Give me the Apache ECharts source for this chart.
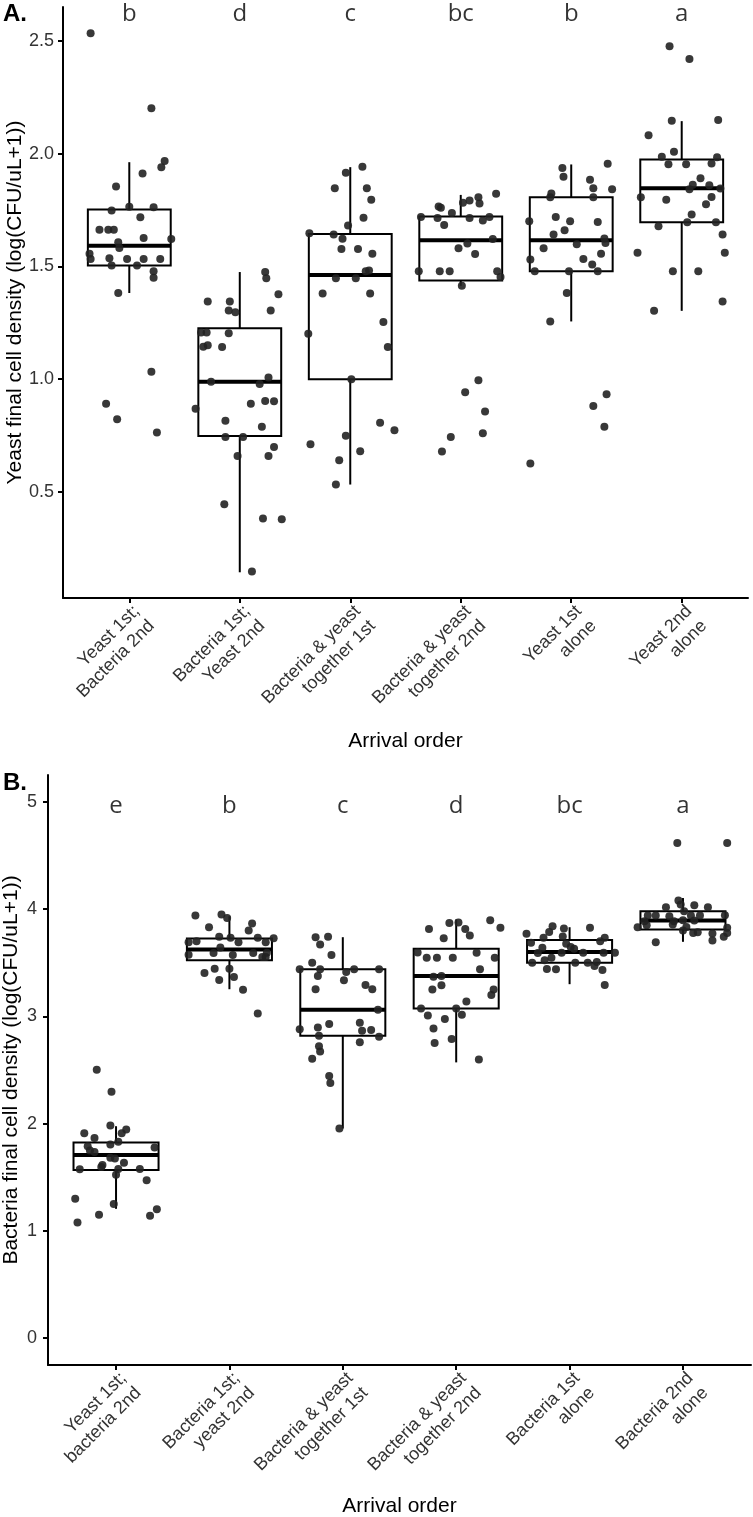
<!DOCTYPE html>
<html>
<head>
<meta charset="utf-8">
<script src="https://cdn.jsdelivr.net/npm/echarts@6/dist/echarts.min.js"></script>
<style>
  body { margin: 0; background: #fff; }
  #main { width: 753px; height: 1517px; }
</style>
</head>
<body>
<div id="main"></div>
<script>
// group names (x axis labels)
const yeastGroups = ['Yeast 1st;\nBacteria 2nd', 'Bacteria 1st;\nYeast 2nd', 'Bacteria & yeast\ntogether 1st', 'Bacteria & yeast\ntogether 2nd', 'Yeast 1st\nalone', 'Yeast 2nd\nalone']
const bacteriaGroups = ['Yeast 1st;\nbacteria 2nd', 'Bacteria 1st;\nyeast 2nd', 'Bacteria & yeast\ntogether 1st', 'Bacteria & yeast\ntogether 2nd', 'Bacteria 1st\nalone', 'Bacteria 2nd\nalone']

// significance letters
const yeastLetters = ['b', 'd', 'c', 'bc', 'b', 'a']
const bacteriaLetters = ['e', 'b', 'c', 'd', 'bc', 'a']
const yeastLetterY = 2.62
const bacteriaLetterY = 4.96

// tick values
const yeastTicks = [0.5, 1.0, 1.5, 2.0, 2.5]
const bacteriaTicks = [0, 1, 2, 3, 4, 5]

// box stats: [lower whisker, Q1, median, Q3, upper whisker]
const yeastBox = [
  [1.382, 1.504, 1.592, 1.752, 1.962],
  [0.144, 0.748, 0.989, 1.226, 1.475],
  [0.533, 1.0, 1.462, 1.644, 1.94],
  [1.414, 1.438, 1.616, 1.721, 1.817],
  [1.256, 1.478, 1.616, 1.807, 1.952],
  [1.303, 1.696, 1.847, 1.974, 2.144]
]
const bacteriaBox = [
  [1.206, 1.568, 1.707, 1.825, 1.976],
  [3.253, 3.522, 3.624, 3.726, 3.933],
  [1.955, 2.82, 3.061, 3.439, 3.738],
  [2.571, 3.073, 3.377, 3.63, 3.903],
  [3.3, 3.5, 3.599, 3.711, 3.831],
  [3.695, 3.81, 3.893, 3.98, 4.103]
]

// yeast final cell density, one list per group
const yeastValues = [
  [2.534, 2.201, 1.967, 1.94, 1.912, 1.854, 1.748, 1.764, 1.762, 1.718, 1.662, 1.662, 1.662, 1.626, 1.622, 1.607, 1.582, 1.556, 1.533, 1.536, 1.533, 1.533, 1.533, 1.504, 1.504, 1.478, 1.45, 1.382, 1.033, 0.891, 0.822, 0.764],
  [1.344, 1.344, 1.304, 1.297, 1.475, 1.448, 1.377, 1.304, 1.207, 1.207, 1.204, 1.144, 1.151, 1.143, 0.989, 1.007, 0.979, 0.869, 0.891, 0.903, 0.902, 0.816, 0.789, 0.744, 0.744, 0.660, 0.660, 0.699, 0.446, 0.382, 0.379, 0.147],
  [1.915, 1.942, 1.847, 1.847, 1.796, 1.716, 1.681, 1.647, 1.642, 1.623, 1.577, 1.577, 1.556, 1.447, 1.447, 1.482, 1.478, 1.380, 1.380, 1.253, 1.143, 0.807, 0.774, 1.201, 1.0, 0.712, 0.749, 0.641, 0.681, 0.533],
  [1.766, 1.76, 1.737, 1.782, 1.792, 1.807, 1.779, 1.822, 1.719, 1.715, 1.684, 1.715, 1.703, 1.719, 1.622, 1.602, 1.58, 1.555, 1.478, 1.478, 1.478, 1.478, 1.453, 1.414, 0.942, 0.995, 0.857, 0.76, 0.744, 0.679],
  [1.936, 1.897, 1.955, 1.884, 1.847, 1.842, 1.823, 1.807, 1.807, 1.70, 1.719, 1.70, 1.697, 1.66, 1.641, 1.624, 1.604, 1.598, 1.58, 1.531, 1.533, 1.556, 1.508, 1.478, 1.478, 1.478, 1.382, 1.256, 0.881, 0.933, 0.789, 0.626],
  [2.476, 2.419, 2.146, 2.149, 2.082, 1.986, 2.008, 1.953, 1.953, 1.956, 1.984, 1.891, 1.862, 1.86, 1.842, 1.845, 1.807, 1.795, 1.808, 1.776, 1.73, 1.678, 1.696, 1.696, 1.641, 1.56, 1.56, 1.478, 1.478, 1.303, 1.344]
]
// horizontal jitter of each yeast point (in category units)
const yeastJitter = [
  [-0.35, 0.20, 0.32, 0.29, 0.12, -0.12, -0.16, 0.00, 0.22, 0.10, -0.27, -0.19, -0.14, 0.13, 0.38, -0.10, -0.09, -0.36, -0.35, -0.18, -0.02, 0.13, 0.28, -0.16, 0.07, 0.22, 0.22, -0.10, 0.20, -0.21, -0.11, 0.25],
  [-0.29, -0.09, -0.10, -0.04, 0.23, 0.24, 0.35, 0.28, -0.35, -0.30, -0.10, -0.33, -0.29, -0.16, -0.26, 0.26, 0.18, -0.40, 0.10, 0.23, 0.31, -0.13, 0.20, -0.13, 0.03, -0.02, 0.26, 0.31, -0.14, 0.21, 0.38, 0.11],
  [-0.04, 0.11, -0.14, 0.15, 0.19, 0.12, -0.02, -0.37, -0.15, -0.07, -0.08, 0.07, 0.20, -0.13, 0.05, 0.17, 0.14, -0.25, 0.18, 0.30, 0.34, 0.27, 0.40, -0.38, 0.01, -0.36, -0.04, -0.10, 0.09, -0.13],
  [-0.20, -0.18, -0.08, 0.02, 0.08, 0.16, 0.17, 0.32, -0.36, -0.21, -0.15, 0.08, 0.20, 0.26, 0.29, 0.06, -0.02, 0.13, -0.38, -0.19, -0.10, 0.33, 0.36, 0.01, 0.04, 0.16, 0.22, 0.20, -0.09, -0.17],
  [-0.08, -0.07, 0.33, 0.17, 0.20, 0.37, -0.18, -0.19, 0.20, -0.38, -0.14, -0.01, 0.24, -0.06, -0.16, 0.30, 0.31, 0.05, -0.25, -0.37, 0.11, 0.27, 0.19, -0.33, -0.02, 0.24, -0.04, -0.19, 0.20, 0.32, 0.30, -0.37],
  [-0.11, 0.07, -0.09, 0.33, -0.30, -0.18, -0.07, -0.12, 0.04, 0.27, 0.32, 0.17, 0.10, 0.25, 0.07, 0.35, -0.37, -0.14, 0.27, 0.22, 0.09, -0.21, 0.05, 0.31, 0.37, -0.40, 0.39, -0.08, 0.15, -0.25, 0.37]
]

// bacteria final cell density, one list per group
const bacteriaValues = [
  [2.502, 2.298, 1.982, 1.945, 1.911, 1.911, 1.867, 1.83, 1.806, 1.79, 1.778, 1.75, 1.735, 1.682, 1.676, 1.635, 1.614, 1.595, 1.574, 1.577, 1.577, 1.524, 1.472, 1.299, 1.252, 1.203, 1.15, 1.141, 1.079],
  [3.94, 3.949, 3.918, 3.866, 3.831, 3.8, 3.692, 3.701, 3.741, 3.732, 3.692, 3.732, 3.692, 3.729, 3.643, 3.59, 3.571, 3.59, 3.593, 3.574, 3.553, 3.553, 3.404, 3.444, 3.444, 3.367, 3.339, 3.247, 3.027],
  [3.738, 3.741, 3.671, 3.571, 3.5, 3.439, 3.439, 3.439, 3.439, 3.414, 3.377, 3.337, 3.253, 3.293, 3.253, 3.061, 2.88, 2.897, 2.928, 2.941, 2.866, 2.872, 2.82, 2.811, 2.758, 2.721, 2.672, 2.604, 2.443, 2.378, 1.955],
  [3.815, 3.871, 3.874, 3.815, 3.754, 3.896, 3.825, 3.729, 3.596, 3.546, 3.546, 3.546, 3.593, 3.546, 3.439, 3.37, 3.377, 3.25, 3.291, 3.25, 3.198, 3.138, 3.073, 3.073, 3.008, 2.975, 3.015, 2.888, 2.789, 2.752, 2.597],
  [3.84, 3.819, 3.825, 3.787, 3.769, 3.732, 3.745, 3.732, 3.701, 3.686, 3.676, 3.639, 3.646, 3.59, 3.593, 3.63, 3.593, 3.593, 3.593, 3.546, 3.522, 3.5, 3.5, 3.5, 3.506, 3.469, 3.442, 3.439, 3.432, 3.293],
  [4.617, 4.617, 4.079, 4.042, 4.017, 4.035, 4.017, 3.98, 3.94, 3.94, 3.933, 3.94, 3.94, 3.942, 3.887, 3.896, 3.893, 3.887, 3.85, 3.831, 3.856, 3.834, 3.825, 3.8, 3.776, 3.785, 3.773, 3.741, 3.776, 3.708, 3.692]
]
const bacteriaJitter = [
  [-0.17, -0.04, -0.05, 0.09, -0.28, 0.05, -0.19, 0.02, -0.05, -0.25, 0.34, -0.23, -0.19, -0.05, -0.01, 0.07, -0.12, -0.13, -0.32, 0.02, 0.21, 0.00, 0.27, -0.36, -0.02, 0.36, -0.15, 0.30, -0.34],
  [-0.30, -0.07, -0.02, 0.20, -0.18, 0.17, -0.36, -0.29, -0.09, 0.01, 0.08, 0.25, 0.32, 0.39, -0.08, -0.14, 0.03, 0.21, 0.33, -0.36, 0.29, 0.32, -0.22, -0.13, 0.00, 0.04, -0.09, 0.12, 0.25],
  [-0.24, -0.13, -0.20, -0.10, -0.27, -0.38, -0.20, 0.10, 0.32, 0.03, -0.22, 0.01, -0.24, 0.20, 0.26, 0.31, -0.38, -0.22, -0.12, 0.15, 0.17, 0.25, -0.21, 0.32, 0.15, -0.21, -0.20, -0.27, -0.12, -0.11, -0.03],
  [-0.24, -0.06, 0.02, 0.08, 0.12, 0.30, 0.39, -0.11, -0.34, -0.26, -0.17, -0.03, 0.18, 0.34, 0.21, -0.20, -0.13, -0.21, -0.13, 0.33, 0.31, 0.09, -0.31, 0.00, -0.25, -0.10, 0.05, -0.20, -0.04, -0.19, 0.20],
  [-0.15, -0.05, 0.18, -0.18, -0.38, -0.23, -0.06, 0.31, 0.27, -0.34, -0.03, -0.24, 0.01, -0.28, -0.07, 0.04, 0.12, 0.30, 0.40, -0.16, -0.22, -0.33, 0.05, 0.16, 0.24, 0.22, -0.20, -0.12, 0.29, 0.31],
  [-0.05, 0.39, -0.04, -0.02, -0.15, 0.10, 0.22, 0.01, -0.31, -0.24, -0.12, 0.07, 0.15, 0.37, -0.08, 0.00, 0.10, -0.34, -0.32, -0.40, -0.09, 0.03, 0.39, 0.00, 0.09, 0.13, 0.26, 0.36, 0.39, 0.26, -0.24]
]

const FONT = 'Liberation Sans, Arial, Helvetica, sans-serif'
const groupIdx = [0, 1, 2, 3, 4, 5]

// box + whiskers drawn from the scale
function renderBox (params, api) {
  const x = api.value(0)
  const half = api.size([0.75, 0])[0] / 2
  const pMin = api.coord([x, api.value(1)])
  const pQ1 = api.coord([x, api.value(2)])
  const pMed = api.coord([x, api.value(3)])
  const pQ3 = api.coord([x, api.value(4)])
  const pMax = api.coord([x, api.value(5)])
  const line = { stroke: '#000', lineWidth: 2, fill: null }
  return {
    type: 'group',
    children: [
      { type: 'line', shape: { x1: pQ3[0], y1: pQ3[1], x2: pMax[0], y2: pMax[1] }, style: line },
      { type: 'line', shape: { x1: pQ1[0], y1: pQ1[1], x2: pMin[0], y2: pMin[1] }, style: line },
      { type: 'rect', shape: { x: pQ3[0] - half, y: pQ3[1], width: half * 2, height: pQ1[1] - pQ3[1] }, style: line },
      { type: 'line', shape: { x1: pMed[0] - half, y1: pMed[1], x2: pMed[0] + half, y2: pMed[1] }, style: { stroke: '#000', lineWidth: 4 } }
    ]
  }
}

function points (values, jitter) {
  const out = []
  values.forEach((list, i) => {
    list.forEach((v, k) => out.push([i + jitter[i][k], v]))
  })
  return out
}

function makeX (gridIndex, names, gap) {
  return {
    type: 'value', gridIndex: gridIndex, min: -0.6, max: 5.6,
    axisLine: { show: true, onZero: false, lineStyle: { color: '#000', width: 2 } },
    axisTick: { show: true, customValues: groupIdx, length: 5, lineStyle: { color: '#000', width: 2 } },
    axisLabel: {
      customValues: groupIdx,
      formatter: v => names[Math.round(v)],
      rotate: 45, fontSize: 18, lineHeight: 21, color: '#333', fontFamily: FONT,
      align: 'right', verticalAlign: 'top', margin: 3
    },
    splitLine: { show: false },
    name: 'Arrival order', nameLocation: 'middle', nameGap: gap, nameMoveOverlap: false,
    nameTextStyle: { fontSize: 21, color: '#000', fontFamily: FONT }
  }
}

function makeY (gridIndex, min, max, ticks, digits, title, gap, margin) {
  return {
    type: 'value', gridIndex: gridIndex, min: min, max: max,
    axisLine: { show: true, onZero: false, lineStyle: { color: '#000', width: 2 } },
    axisTick: { show: true, customValues: ticks, length: 5, lineStyle: { color: '#000', width: 2 } },
    axisLabel: { customValues: ticks, formatter: v => v.toFixed(digits), fontSize: 18, color: '#333', fontFamily: FONT, margin: margin },
    splitLine: { show: false },
    name: title, nameLocation: 'middle', nameGap: gap, nameMoveOverlap: false,
    nameTextStyle: { fontSize: 21, color: '#000', fontFamily: FONT }
  }
}

function letterData (letters, y) {
  return letters.map((l, i) => ({ value: [i, y], name: l }))
}

function letterSeries (axis, letters, y) {
  return {
    type: 'scatter', xAxisIndex: axis, yAxisIndex: axis, symbolSize: 0,
    itemStyle: { color: 'rgba(0,0,0,0)' },
    label: { show: true, position: 'inside', formatter: p => p.name, fontSize: 24, color: '#000', fontFamily: 'Open Sans, sans-serif' },
    labelLayout: { hideOverlap: false },
    data: letterData(letters, y), z: 4
  }
}

let myChart = echarts.init(document.getElementById('main'))
let option = {
  backgroundColor: '#fff',
  animation: false,
  grid: [
    { left: 63, right: 5, top: 7, height: 591, outerBoundsMode: 'none', containLabel: false },
    { left: 48, right: 2, top: 775, height: 590, outerBoundsMode: 'none', containLabel: false }
  ],
  xAxis: [makeX(0, yeastGroups, 133), makeX(1, bacteriaGroups, 131)],
  yAxis: [
    makeY(0, 0.03, 2.65, yeastTicks, 1, 'Yeast final cell density (log(CFU/uL+1))', 37, 9),
    makeY(1, -0.25, 5.25, bacteriaTicks, 0, 'Bacteria final cell density (log(CFU/uL+1))', 26, 11)
  ],
  graphic: [
    { type: 'text', left: 3, top: 2, style: { text: 'A.', font: 'bold 24px ' + FONT, fill: '#000' } },
    { type: 'text', left: 3, top: 771, style: { text: 'B.', font: 'bold 24px ' + FONT, fill: '#000' } }
  ],
  series: [
    { type: 'custom', xAxisIndex: 0, yAxisIndex: 0, renderItem: renderBox, data: yeastBox.map((b, i) => [i].concat(b)), z: 2 },
    { type: 'custom', xAxisIndex: 1, yAxisIndex: 1, renderItem: renderBox, data: bacteriaBox.map((b, i) => [i].concat(b)), z: 2 },
    { type: 'scatter', xAxisIndex: 0, yAxisIndex: 0, symbolSize: 8, itemStyle: { color: '#222', opacity: 0.9 }, data: points(yeastValues, yeastJitter), z: 3 },
    { type: 'scatter', xAxisIndex: 1, yAxisIndex: 1, symbolSize: 8, itemStyle: { color: '#222', opacity: 0.9 }, data: points(bacteriaValues, bacteriaJitter), z: 3 },
    letterSeries(0, yeastLetters, yeastLetterY),
    letterSeries(1, bacteriaLetters, bacteriaLetterY)
  ]
}
option && myChart.setOption(option)
</script>
</body>
</html>
